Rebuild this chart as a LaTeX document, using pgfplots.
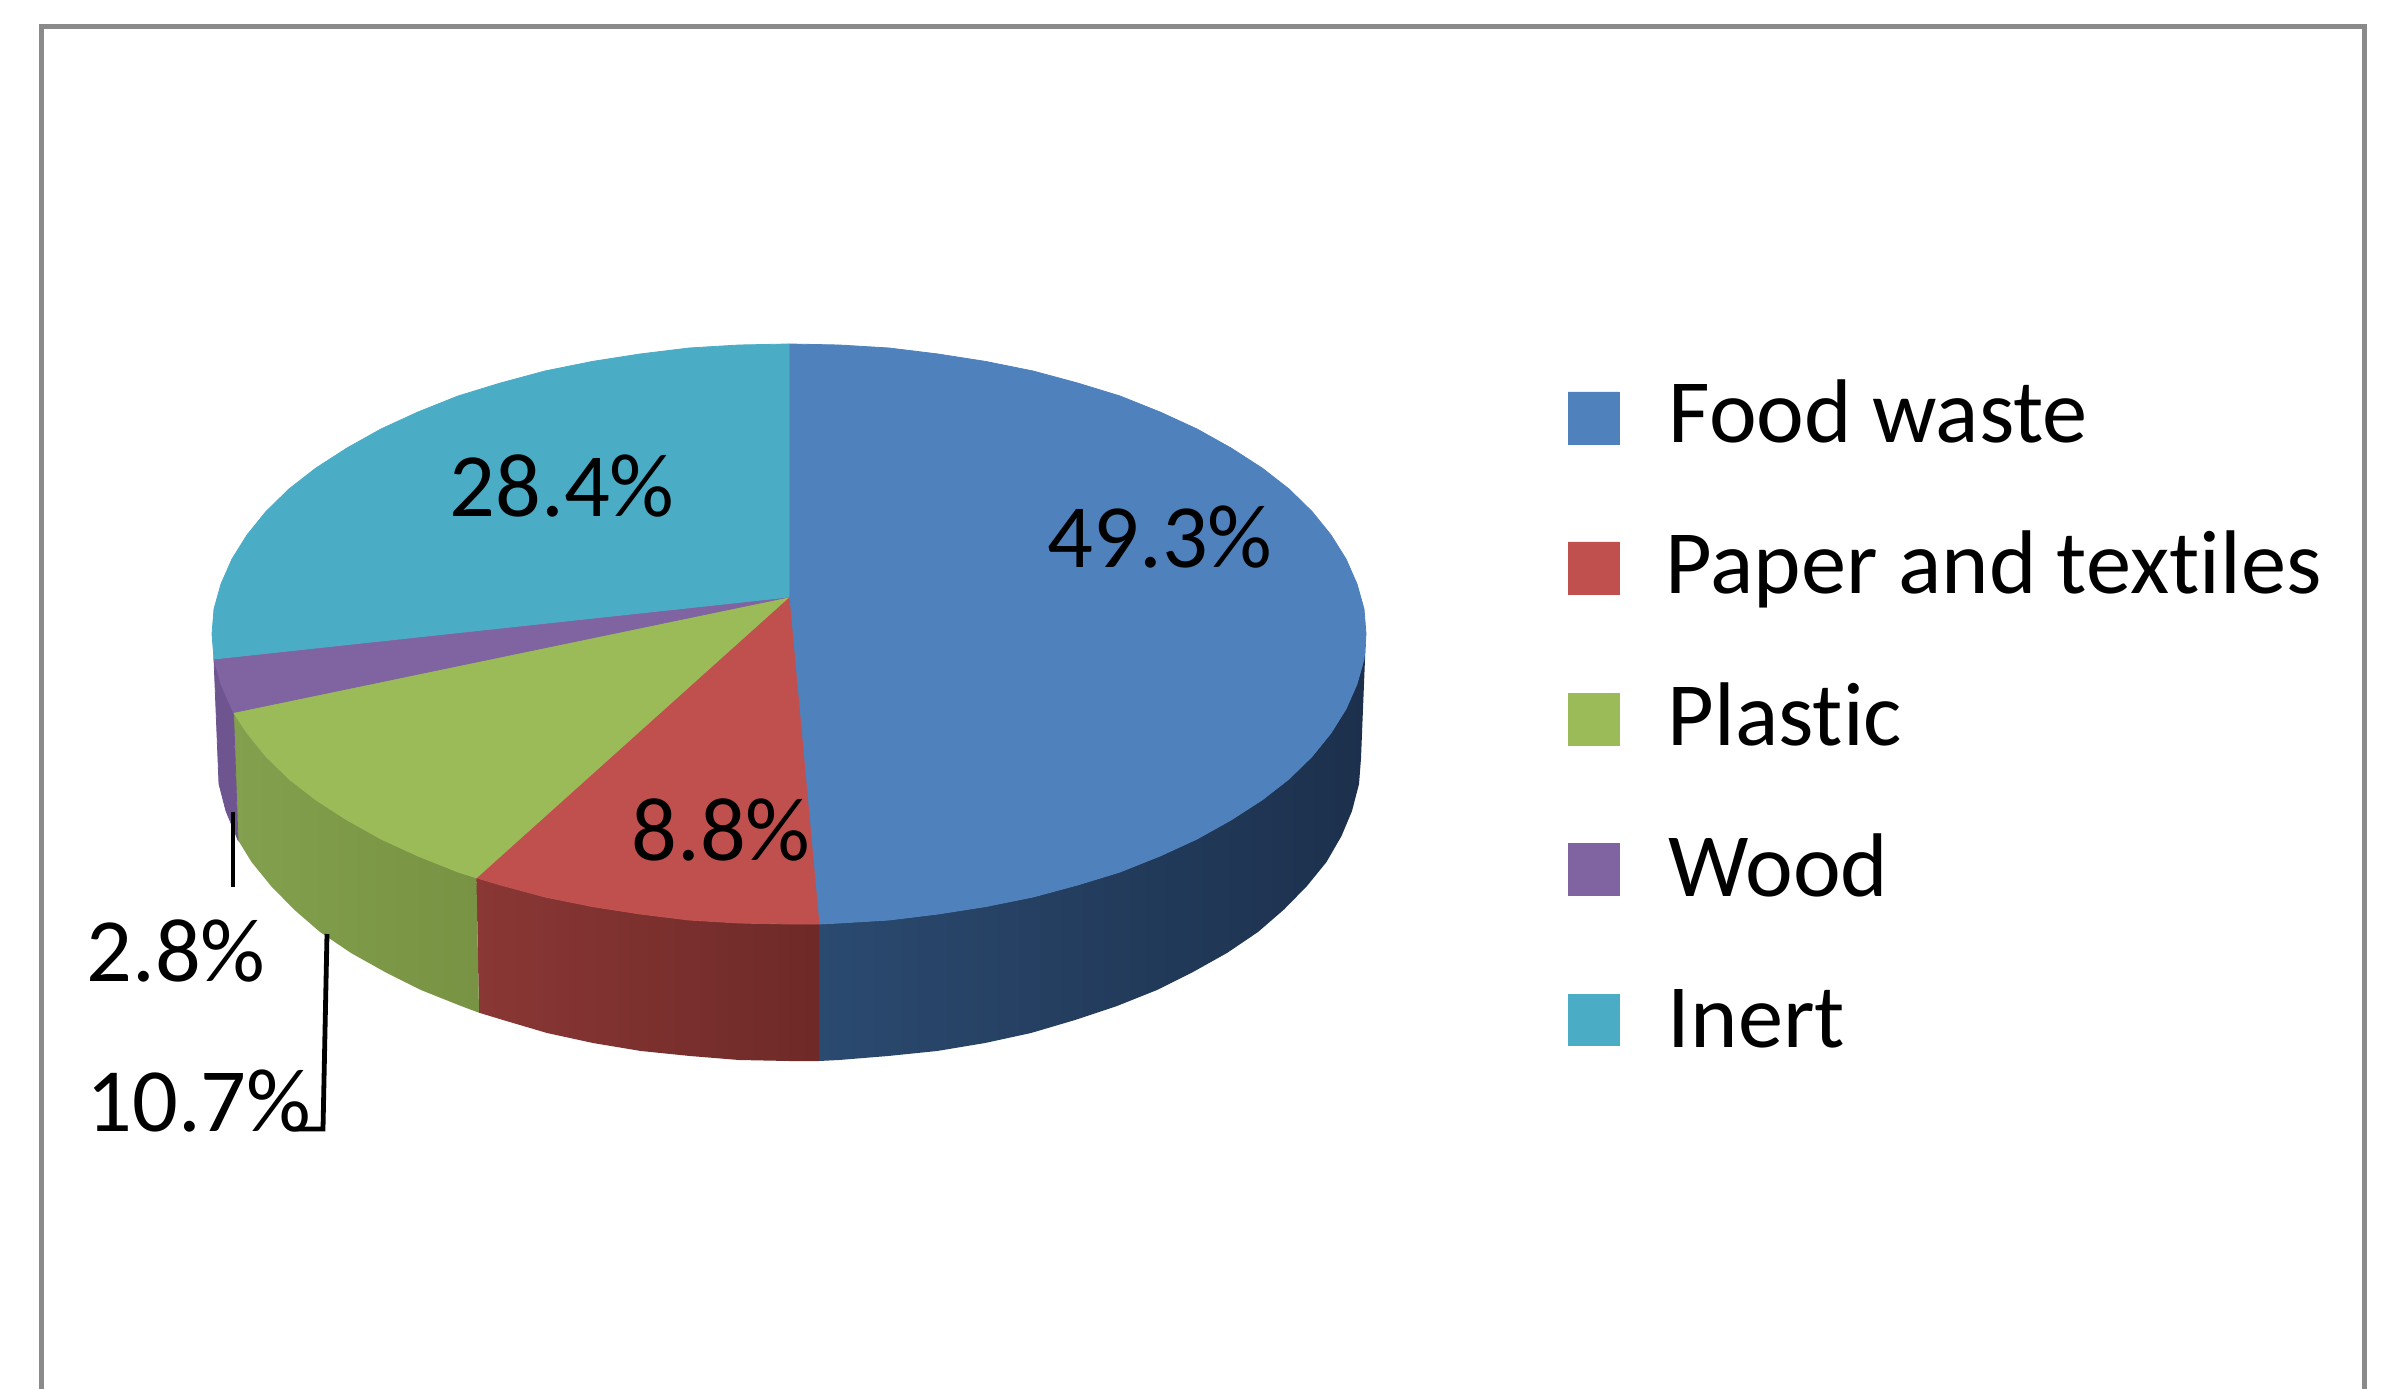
\documentclass[border=0pt]{standalone}
\usepackage{fontspec}
\setmainfont{Carlito}[Ligatures=NoCommon]
\usepackage{pgfplots}
\pgfplotsset{compat=1.18}
\definecolor{foodc}{HTML}{4F81BD}
\definecolor{paperc}{HTML}{C0504D}
\definecolor{plasticc}{HTML}{9BBB59}
\definecolor{woodc}{HTML}{8064A2}
\definecolor{inertc}{HTML}{4BACC6}
\definecolor{framec}{HTML}{8A8A8A}
\definecolor{foodA}{HTML}{2B4A70}
\definecolor{foodB}{HTML}{1E3350}
\definecolor{foodD}{HTML}{1C304C}
\definecolor{paperA}{HTML}{8A3735}
\definecolor{paperB}{HTML}{6E2A28}
\definecolor{plastA}{HTML}{82A04D}
\definecolor{plastB}{HTML}{789343}
\definecolor{woodD}{HTML}{6E5590}
\tikzset{
  slice/.style={draw=#1, fill=#1, line width=0.2pt},
  lab/.style={font=\fontsize{22.6}{26}\selectfont, inner sep=0pt, anchor=base west},
  labc/.style={font=\fontsize{22.6}{26}\selectfont, inner sep=0pt, anchor=center},
}
\begin{document}
\begin{tikzpicture}
\begin{axis}[
    scale only axis,
    width=598.5pt,
    height=347.25pt,
    xmin=0, xmax=2394,
    ymin=0, ymax=1389,
    y dir=reverse,
    axis lines=none,
    no markers,
]
% keeps the page at full size
\addplot[draw=none] coordinates {(0,0) (2394,1389)};
% frame, open at the bottom
\addplot[draw=framec, line width=1.25pt] coordinates {(41,1389) (41,27) (2364,27) (2364,1389)};

% pie sides
\addplot[draw=none, left color=foodA, middle color=foodB, right color=foodD] coordinates {
  (1366,634) (1364,659) (1357,684) (1346,709) (1331,733) (1312,756.5) (1289,779) (1262,800) (1231,820) (1197,839)
  (1160,856) (1120,872) (1077.5,885) (1033,897) (986,906.5) (938,914) (889,920) (839,923) (819,924)
  (819,1061) (839,1060) (888,1056) (937,1051) (985,1043) (1031,1033) (1075,1020) (1117,1006) (1157,990) (1193,972)
  (1227,953) (1258,932) (1284,909.5) (1307,886) (1326.5,862) (1341.5,836) (1352,811) (1359,784) (1361,758) (1366,634)
};
\addplot[draw=none, left color=paperA, right color=paperB] coordinates {
  (819,924) (789,924) (739,923) (689,920) (640,914) (592,906.5) (545,897) (500.5,885) (476.4,877.8)
  (479,1012.7) (503,1020) (547,1033) (593,1043) (641,1051) (690,1056) (739,1060) (789,1061) (819,1061) (819,924)
};
\addplot[draw=none, left color=plastA, right color=plastB] coordinates {
  (476.4,877.8) (458,872) (418,856) (381,839) (347,820) (316,800) (289,779) (266,756.5) (247,733) (233.5,712.5)
  (238,840) (251.5,862) (271,886) (294,909.5) (320,932) (351,953) (385,972) (421,990) (461,1006) (479,1012.7) (476.4,877.8)
};
\addplot[slice=woodD] coordinates {
  (233.5,712.5) (221,684) (214,659) (219,784) (226,811) (238,840) (233.5,712.5)
};

% pie top
\addplot[slice=foodc] coordinates {
  (789,597) (789,344) (839,345) (889,348) (938,354) (986,361.5) (1033,371) (1077.5,383) (1120,396) (1160,412) (1197,429)
  (1231,448) (1262,468) (1289,489) (1312,511.5) (1331,535) (1346,559) (1357,584) (1364,609) (1366,634)
  (1364,659) (1357,684) (1346,709) (1331,733) (1312,756.5) (1289,779) (1262,800) (1231,820) (1197,839)
  (1160,856) (1120,872) (1077.5,885) (1033,897) (986,906.5) (938,914) (889,920) (839,923) (819,924) (789,597)
};
\addplot[slice=paperc] coordinates {
  (789,597) (819,924) (789,924) (739,923) (689,920) (640,914) (592,906.5) (545,897) (500.5,885) (476.4,877.8) (789,597)
};
\addplot[slice=plasticc] coordinates {
  (789,597) (476.4,877.8) (458,872) (418,856) (381,839) (347,820) (316,800) (289,779) (266,756.5) (247,733) (233.5,712.5) (789,597)
};
\addplot[slice=woodc] coordinates {
  (789,597) (233.5,712.5) (221,684) (214,659) (789,597)
};
\addplot[slice=inertc] coordinates {
  (789,597) (214,659) (212,634) (214,609) (221,584) (232,559) (247,535) (266,511.5) (289,489) (316,468) (347,448) (381,429)
  (418,412) (458,396) (500.5,383) (545,371) (592,361.5) (640,354) (689,348) (739,345) (789,344) (789,597)
};

% legend keys
\addplot[slice=foodc]    coordinates {(1568,392) (1619,392) (1619,444) (1568,444) (1568,392)};
\addplot[slice=paperc]   coordinates {(1568,542) (1619,542) (1619,594) (1568,594) (1568,542)};
\addplot[slice=plasticc] coordinates {(1568,693) (1619,693) (1619,745) (1568,745) (1568,693)};
\addplot[slice=woodc]    coordinates {(1568,843) (1619,843) (1619,895) (1568,895) (1568,843)};
\addplot[slice=inertc]   coordinates {(1568,994) (1619,994) (1619,1045) (1568,1045) (1568,994)};

% leader lines
\addplot[draw=black, line width=1.2pt] coordinates {(233,812) (233,887)};
\addplot[draw=black, line width=1.2pt] coordinates {(327,934) (323,1129) (297,1129)};

\node[lab] at (axis cs:1668,443)  {Food waste};
\node[lab] at (axis cs:1665,594)  {Paper and textiles};
\node[lab] at (axis cs:1667,745)  {Plastic};
\node[lab] at (axis cs:1668,896)  {Wood};
\node[lab] at (axis cs:1667,1047) {Inert};

\node[labc] at (axis cs:1160,537)  {49.3\%};
\node[labc] at (axis cs:562,486)   {28.4\%};
\node[labc] at (axis cs:721,830)   {8.8\%};
\node[labc] at (axis cs:176,951)   {2.8\%};
\node[labc] at (axis cs:199,1101)  {10.7\%};
\end{axis}
\end{tikzpicture}
\end{document}
